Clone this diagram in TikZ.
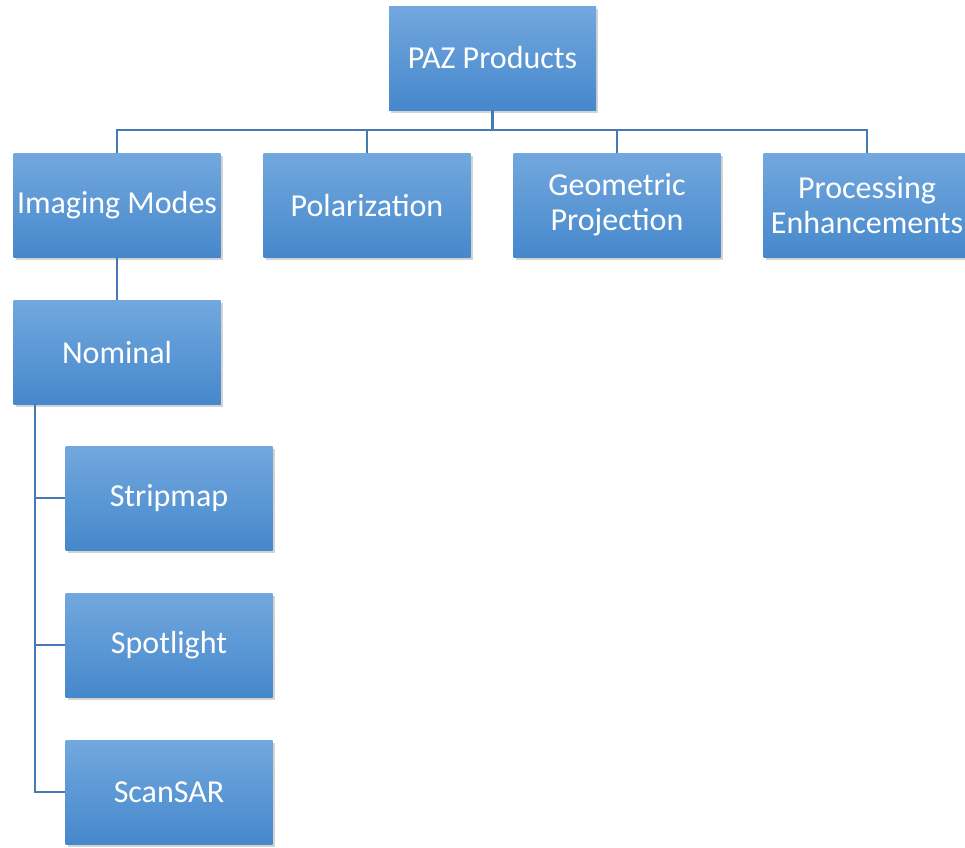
\documentclass[tikz,border=0pt]{standalone}
\usepackage{fontspec}
\setmainfont{Carlito}
\usetikzlibrary{calc,shadows}

\definecolor{boxtop}{RGB}{114,168,222}
\definecolor{boxbot}{RGB}{70,136,204}
\definecolor{linkblue}{RGB}{70,122,180}

\tikzset{
  prod/.style={rectangle, minimum width=207pt, minimum height=104pt, inner sep=0pt,
    top color=boxtop, bottom color=boxbot, text=white, align=center,
    font=\fontsize{32}{35}\selectfont,
    drop shadow={shadow xshift=2pt, shadow yshift=-3pt, opacity=0.35}},
  link/.style={draw=linkblue, line width=2.2pt}
}

\begin{document}
\begin{tikzpicture}[x=1pt,y=-1pt]
		\useasboundingbox (0,0) rectangle (965,847);
		
		\node[prod] (paz) at (492.5,58) {PAZ Products};
		
		\node[prod] (img) at (117,205) {Imaging Modes};
		\node[prod] (pol) at (367,205) {Polarization};
		\node[prod] (geo) at (617,205) {Geometric\\Projection};
		\node[prod] (proc) at (867,205) {Processing\\Enhancements};
		
		\node[prod] (nom) at (117,352) {Nominal};
		
		\node[prod] (strip) at (169,498) {Stripmap};
		\node[prod] (spot) at (169,645) {Spotlight};
		\node[prod] (scan) at (169,792) {ScanSAR};
		
		% top level
		\coordinate (bus) at (492.5,130);
		\draw[link] (paz.south) -- (bus);
		\foreach \n in {img,pol,geo,proc}
			\draw[link] (\n.north) |- (bus);
		
		\draw[link] (img.south) -- (nom.north);
		
		% nominal modes
		\coordinate (spine) at ($(nom.south west)+(22,0)$);
		\foreach \n in {strip,spot,scan}
			\draw[link] (spine) |- (\n.west);
		
\end{tikzpicture}
\end{document}
